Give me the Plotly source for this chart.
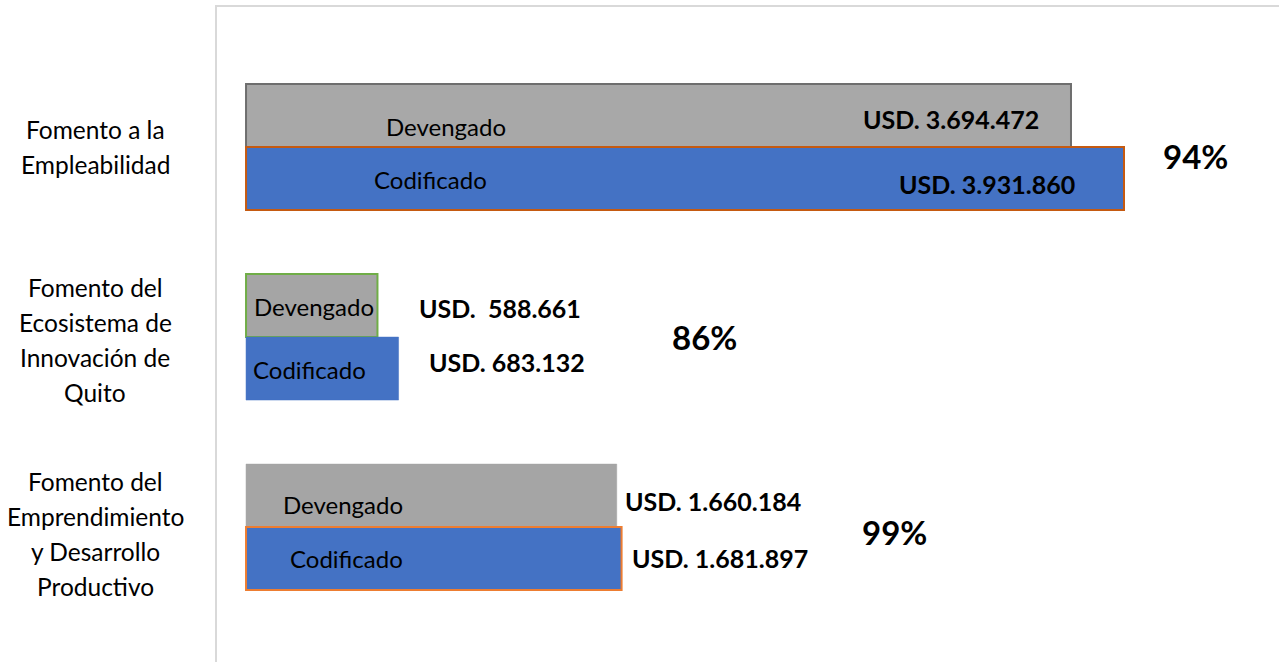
import plotly.graph_objects as go

categories = ["Fomento a la Empleabilidad",
              "Fomento del Ecosistema de Innovación de Quito",
              "Fomento del Emprendimiento y Desarrollo Productivo"]
category_lines = [["Fomento a la", "Empleabilidad"],
                  ["Fomento del", "Ecosistema de", "Innovación de", "Quito"],
                  ["Fomento del", "Emprendimiento", "y Desarrollo", "Productivo"]]
devengado = [3694472, 588661, 1660184]
codificado = [3931860, 683132, 1681897]
devengado_labels = ["USD. 3.694.472", "USD.  588.661", "USD. 1.660.184"]
codificado_labels = ["USD. 3.931.860", "USD. 683.132", "USD. 1.681.897"]
percent_labels = ["94%", "86%", "99%"]

FONT = "Lato, 'Open Sans', sans-serif"
GRAY = "#A5A5A5"
BLUE = "#4472C4"

idx = list(range(len(categories)))

fig = go.Figure()
fig.add_trace(go.Bar(
    y=idx, x=devengado, orientation="h", name="Devengado",
    marker=dict(color=["#A8A8A8", GRAY, GRAY],
                line=dict(color=["#6E6E6E", "#70AD47", GRAY], width=[2, 2, 0.5])),
    hoverinfo="skip"))
fig.add_trace(go.Bar(
    y=idx, x=codificado, orientation="h", name="Codificado",
    marker=dict(color=BLUE,
                line=dict(color=["#C55A11", BLUE, "#ED7D31"], width=[2, 0.5, 2])),
    hoverinfo="skip"))

ann = []
def add(text, x, y, xanchor, xshift, yshift, size=24, bold=False, xref="x"):
    ann.append(dict(text=("<b>%s</b>" % text) if bold else text, x=x, y=y,
                    xref=xref, yref="y", xanchor=xanchor, yanchor="middle",
                    xshift=xshift, yshift=yshift, showarrow=False,
                    font=dict(family=FONT, size=size, color="#000000")))

VS = 25   # value label size
PS = 33   # percent label size
# group 1
add("Devengado", 0, 0, "center", 200, 21)
add("Codificado", 0, 0, "center", 184, -32)
add(devengado_labels[0], devengado[0], 0, "right", -30, 28, size=VS, bold=True)
add(codificado_labels[0], codificado[0], 0, "right", -47, -37, size=VS, bold=True)
add(percent_labels[0], codificado[0], 0, "center", 71, -9, size=PS, bold=True)
# group 2
add("Devengado", 0, 1, "left", 6, 31)
add("Codificado", 0, 1, "left", 5, -32)
add(devengado_labels[1], devengado[1], 1, "left", 40, 29, size=VS, bold=True)
add(codificado_labels[1], codificado[1], 1, "left", 28, -25, size=VS, bold=True)
add(percent_labels[1], codificado[1], 1, "center", 306, 0, size=PS, bold=True)
# group 3
add("Devengado", 0, 2, "center", 97, 23)
add("Codificado", 0, 2, "center", 100, -31)
add(devengado_labels[2], devengado[2], 2, "left", 6, 26, size=VS, bold=True)
add(codificado_labels[2], codificado[2], 2, "left", 8, -31, size=VS, bold=True)
add(percent_labels[2], codificado[2], 2, "center", 273, -5, size=PS, bold=True)

# category labels (one annotation per line for Calibri-like line spacing)
centers = [0, -2.5, -7]
for i, lines in enumerate(category_lines):
    n = len(lines)
    for k, line in enumerate(lines):
        dy = (k - (n - 1) / 2) * 35
        add(line, 0, i, "center", -122, centers[i] - dy, size=24.5, xref="paper")

fig.update_layout(
    width=1279, height=662,
    margin=dict(l=217, r=0, t=7, b=0),
    paper_bgcolor="white", plot_bgcolor="white",
    barmode="group", bargap=0.337, bargroupgap=0,
    showlegend=False,
    annotations=ann,
    xaxis=dict(range=[-130000, 4626000], side="top", showline=True,
               linecolor="#D9D9D9", linewidth=2, showgrid=False,
               zeroline=False, showticklabels=False, ticks=""),
    yaxis=dict(range=[2.71, -0.737], showline=True, linecolor="#D9D9D9",
               linewidth=2, showgrid=False, zeroline=False,
               showticklabels=False, ticks=""),
)

fig.write_html("out.html",
               config={"displayModeBar": False},
               post_script="document.body.style.margin='0';"
                           "document.body.style.overflow='hidden';")
